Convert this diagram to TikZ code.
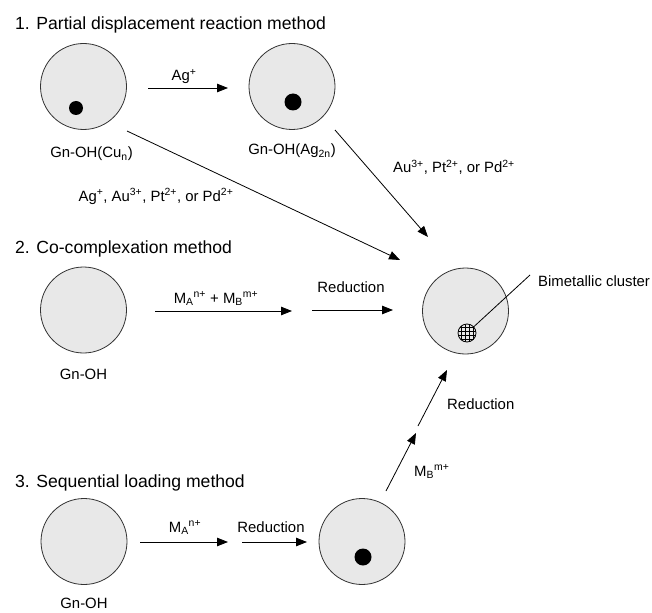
\documentclass[tikz,border=0pt]{standalone}
\usepackage{fontspec}
\setmainfont{Liberation Sans}
\usetikzlibrary{arrows.meta}
\definecolor{ballfill}{HTML}{E8E8E8}
\definecolor{ballline}{HTML}{333333}
\begin{document}
\begin{tikzpicture}[x=1pt,y=-1pt,
  ball/.style={circle,draw=ballline,fill=ballfill,line width=0.8pt,minimum size=86pt,inner sep=0pt},
  dot/.style={circle,fill=black,inner sep=0pt,minimum size=#1},
  title/.style={anchor=base west,font=\fontsize{17.6}{20}\selectfont,inner sep=0pt},
  lbl/.style={anchor=base,font=\fontsize{14.9}{17}\selectfont,inner sep=0pt},
  lblw/.style={lbl,anchor=base west},
  arr/.style={line width=0.8pt,-{Triangle[length=11pt,width=8.5pt]}},
  thin/.style={line width=0.8pt},
  ]
\useasboundingbox (0,0) rectangle (652,612);

% ---------- titles ----------
\node[title] (t1) at (15,30) {1. Partial displacement reaction method};
\node[title] (t2) at (15,253) {2. Co-complexation method};
\node[title] (t3) at (15,487) {3. Sequential loading method};

% ---------- row 1 ----------
\node[ball] (cu) at (83.5,86.5) {};
\node[dot=14pt] (cudot) at (76,108) {};
\node[lbl] (culbl) at (91.5,158) {Gn-OH(Cu\textsubscript{n})};

\node[ball] (ag) at (292,86.5) {};
\node[dot=17pt] (agdot) at (293,102) {};
\node[lbl] (aglbl) at (292,155) {Gn-OH(Ag\textsubscript{2n})};

\coordinate (a1s) at (148,88);
\coordinate (a1e) at (228,88);
\draw[arr] (a1s) -- (a1e);
\node[lbl] (a1l) at (184,81) {Ag\textsuperscript{+}};

% ---------- final particle ----------
\node[ball] (fin) at (465.5,311) {};
\node[circle,draw=black,line width=0.8pt,fill=ballfill,minimum size=18pt,inner sep=0pt,
  path picture={
    \foreach \k in {-6,-2,2,6}{
      \draw[line width=0.6pt] ([xshift=\k pt]path picture bounding box.north) -- ([xshift=\k pt]path picture bounding box.south);
      \draw[line width=0.6pt] ([yshift=\k pt]path picture bounding box.west) -- ([yshift=\k pt]path picture bounding box.east);
    }}] (cl) at (467,333) {};
\coordinate (cllead) at (530,275);
\draw[thin] (cl) -- (cllead);
\node[lblw] (cllbl) at (538,286) {Bimetallic cluster};

% diagonal arrows
\coordinate (d1s) at (127,131);
\coordinate (d1e) at (400,260);
\draw[arr] (d1s) -- (d1e);
\node[lbl] (d1l) at (156,201) {Ag\textsuperscript{+}, Au\textsuperscript{3+}, Pt\textsuperscript{2+}, or Pd\textsuperscript{2+}};

\coordinate (d2s) at (335,130);
\coordinate (d2e) at (428,237);
\draw[arr] (d2s) -- (d2e);
\node[lbl] (d2l) at (454,173) {Au\textsuperscript{3+}, Pt\textsuperscript{2+}, or Pd\textsuperscript{2+}};

% ---------- row 2 ----------
\node[ball] (co) at (83.5,310) {};
\node[lbl] (colbl) at (83.5,379) {Gn-OH};

\coordinate (b1s) at (155,311);
\coordinate (b1e) at (292,311);
\draw[arr] (b1s) -- (b1e);
\node[lbl] (b1l) at (216,303) {M\textsubscript{A}\textsuperscript{n+} + M\textsubscript{B}\textsuperscript{m+}};

\coordinate (b2s) at (312,310);
\coordinate (b2e) at (393,310);
\draw[arr] (b2s) -- (b2e);
\node[lbl] (b2l) at (351,292) {Reduction};

% ---------- row 3 ----------
\node[ball] (s1) at (84,541.5) {};
\node[lbl] (s1lbl) at (84,608) {Gn-OH};

\coordinate (c1s) at (140,542);
\coordinate (c1e) at (228,542);
\draw[arr] (c1s) -- (c1e);
\node[lbl] (c1l) at (185,532) {M\textsubscript{A}\textsuperscript{n+}};

\coordinate (c2s) at (242,542);
\coordinate (c2e) at (307,542);
\draw[arr] (c2s) -- (c2e);
\node[lbl] (c2l) at (271,532) {Reduction};

\node[ball] (s2) at (362,541.5) {};
\node[dot=17pt] (s2dot) at (363,557) {};

\coordinate (u1s) at (386,491);
\coordinate (u1e) at (416,433);
\draw[arr] (u1s) -- (u1e);
\node[lblw] (u1l) at (414,476) {M\textsubscript{B}\textsuperscript{m+}};

\coordinate (u2s) at (418,426);
\coordinate (u2e) at (447,370);
\draw[arr] (u2s) -- (u2e);
\node[lblw] (u2l) at (447,409) {Reduction};
\end{tikzpicture}
\end{document}
